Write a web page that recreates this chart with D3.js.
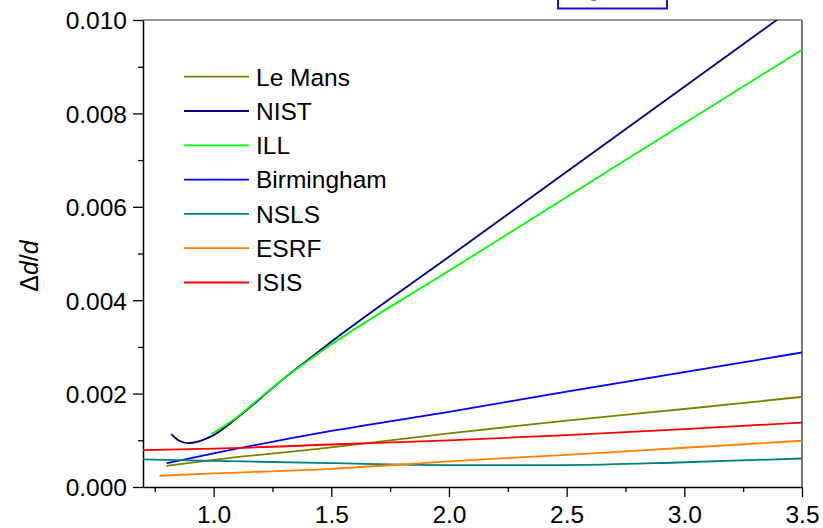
<!DOCTYPE html>
<html>
<head>
<meta charset="utf-8">
<script src="https://cdn.jsdelivr.net/npm/d3@7"></script>
<style>
  html, body { margin: 0; padding: 0; background: #fff; }
  svg { display: block; }
  text { font-family: "Liberation Sans", Arial, sans-serif; fill: #000; }
</style>
</head>
<body>
<svg id="chart" width="823" height="528"></svg>
<script>
// ---- data ----
const seriesNames = ["Le Mans", "NIST", "ILL", "Birmingham", "NSLS", "ESRF", "ISIS"];
const seriesColors = ["#808000", "#000080", "#00ff00", "#0000ff", "#008080", "#ff8000", "#ff0000"];

const leMansX = [0.80, 1.0, 1.5, 2.0, 2.5, 3.0, 3.5];
const leMansY = [0.00045, 0.00058, 0.00085, 0.00115, 0.00142, 0.00167, 0.00193];

const nistX = [0.82, 0.85, 0.89, 0.95, 1.0, 1.1, 1.2, 1.3, 1.4, 1.5, 2.0, 2.5, 3.0, 3.5];
const nistY = [0.00113, 0.00100, 0.00094, 0.00100, 0.00111, 0.00148, 0.00190, 0.00233, 0.00272, 0.00311, 0.00493, 0.00675, 0.00857, 0.01039];

const illX = [0.99, 1.1, 1.2, 1.3, 1.4, 1.5, 2.0, 2.5, 3.0, 3.5];
const illY = [0.00113, 0.00150, 0.00192, 0.00233, 0.00270, 0.00305, 0.00463, 0.00621, 0.00779, 0.00936];

const birmX = [0.80, 1.0, 1.5, 2.0, 2.5, 3.0, 3.5];
const birmY = [0.00051, 0.00072, 0.00120, 0.00161, 0.00204, 0.00246, 0.00288];

const nslsX = [0.70, 1.0, 1.5, 2.0, 2.5, 3.0, 3.5];
const nslsY = [0.00059, 0.00056, 0.00051, 0.00047, 0.00047, 0.00053, 0.00061];

const esrfX = [0.77, 1.0, 1.5, 2.0, 2.5, 3.0, 3.5];
const esrfY = [0.00024, 0.00029, 0.00039, 0.00055, 0.00069, 0.00084, 0.00099];

const isisX = [0.70, 1.0, 1.5, 2.0, 2.5, 3.0, 3.5];
const isisY = [0.00079, 0.00082, 0.00091, 0.00100, 0.00111, 0.00124, 0.00138];

const xMajorTicks = [1.0, 1.5, 2.0, 2.5, 3.0, 3.5];
const xMinorTicks = [0.75, 1.25, 1.75, 2.25, 2.75, 3.25];
const yMajorTicks = [0.000, 0.002, 0.004, 0.006, 0.008, 0.010];
const yMinorTicks = [0.001, 0.003, 0.005, 0.007, 0.009];

const seriesXs = [leMansX, nistX, illX, birmX, nslsX, esrfX, isisX];
const seriesYs = [leMansY, nistY, illY, birmY, nslsY, esrfY, isisY];

// ---- layout ----
const svg = d3.select("#chart");
const L = 143, R = 802, T = 20, B = 487;
const x = d3.scaleLinear().domain([0.7, 3.5]).range([L, R]);
const y = d3.scaleLinear().domain([0, 0.010]).range([B, T]);

svg.append("defs").append("clipPath").attr("id", "plotclip")
  .append("rect").attr("x", L).attr("y", T).attr("width", R - L).attr("height", B - T);

// top decorative box (partially cut off at the top edge, as in the reference)
svg.append("rect").attr("x", 558).attr("y", -20).attr("width", 109).attr("height", 28.5)
  .attr("fill", "none").attr("stroke", "#3300ee").attr("stroke-width", 2);
svg.append("text").attr("x", 576).attr("y", -2.5).attr("font-size", 16)
  .style("fill", "#777").text("Fig");

// frame top and right
svg.append("line").attr("x1", L).attr("x2", R).attr("y1", T).attr("y2", T)
  .attr("stroke", "#333").attr("stroke-width", 1.2);
svg.append("line").attr("x1", R).attr("x2", R).attr("y1", T).attr("y2", B)
  .attr("stroke", "#777").attr("stroke-width", 2);

// axes
const xAxis = svg.append("g").attr("transform", `translate(0,${B})`)
  .call(d3.axisBottom(x).tickValues(xMajorTicks).tickFormat(d3.format(".1f")).tickSize(10).tickSizeOuter(0));
svg.append("g").attr("transform", `translate(0,${B})`)
  .call(d3.axisBottom(x).tickValues(xMinorTicks).tickFormat("").tickSize(5).tickSizeOuter(0))
  .select(".domain").remove();
const yAxis = svg.append("g").attr("transform", `translate(${L},0)`)
  .call(d3.axisLeft(y).tickValues(yMajorTicks).tickFormat(d3.format(".3f")).tickSize(10).tickSizeOuter(0));
svg.append("g").attr("transform", `translate(${L},0)`)
  .call(d3.axisLeft(y).tickValues(yMinorTicks).tickFormat("").tickSize(5).tickSizeOuter(0))
  .select(".domain").remove();

svg.selectAll(".domain").attr("stroke", "#000").attr("stroke-width", 1.5);
svg.selectAll(".tick line").attr("stroke", "#000").attr("stroke-width", 1.3);
xAxis.selectAll("text").attr("font-size", 24.5).attr("font-family", "Liberation Sans, Arial, sans-serif")
  .attr("dy", "0").attr("y", 36).style("fill", "#000");
yAxis.selectAll("text").attr("font-size", 24.5).attr("font-family", "Liberation Sans, Arial, sans-serif")
  .attr("x", -16).attr("dy", "0.36em").style("fill", "#000");

// y axis label
const yl = svg.append("text").attr("transform", "translate(38,266) rotate(-90)")
  .attr("text-anchor", "middle").attr("font-size", 25);
yl.append("tspan").text("\u0394");
yl.append("tspan").attr("font-style", "italic").text("d");
yl.append("tspan").text("/");
yl.append("tspan").attr("font-style", "italic").text("d");

// curves
const line = d3.line().x(d => x(d[0])).y(d => y(d[1])).curve(d3.curveMonotoneX);
const plot = svg.append("g").attr("clip-path", "url(#plotclip)");
seriesNames.forEach((name, i) => {
  const pts = seriesXs[i].map((xv, j) => [xv, seriesYs[i][j]]);
  plot.append("path").datum(pts).attr("d", line)
    .attr("fill", "none").attr("stroke", seriesColors[i]).attr("stroke-width", 1.8);
});

// legend
const lg = svg.append("g");
seriesNames.forEach((name, i) => {
  const ly = 76.7 + i * 34.3;
  lg.append("line").attr("x1", 184).attr("x2", 249).attr("y1", ly).attr("y2", ly)
    .attr("stroke", seriesColors[i]).attr("stroke-width", 1.8);
  lg.append("text").attr("x", 256).attr("y", ly).attr("dy", "0.36em")
    .attr("font-size", 24.5).text(name);
});
</script>
</body>
</html>
